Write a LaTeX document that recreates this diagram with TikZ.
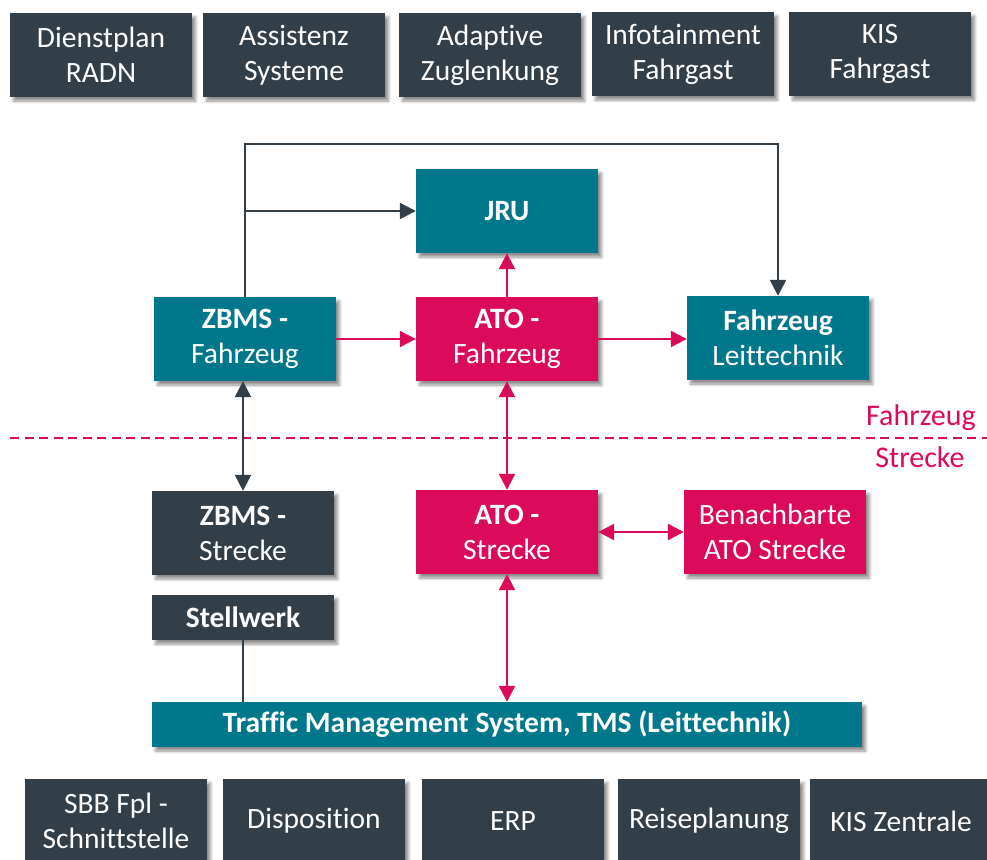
\documentclass[tikz,border=0pt]{standalone}
\usepackage{fontspec}
\setmainfont{Carlito}[Ligatures={NoCommon}]
\usetikzlibrary{arrows.meta,shadows.blur,calc}
\definecolor{slate}{HTML}{333F48}
\definecolor{petrol}{HTML}{00778A}
\definecolor{ruby}{HTML}{DC0A5A}
\tikzset{
  box/.style={rectangle, inner sep=0pt, align=center, text=white,
    minimum width=182pt, minimum height=84pt,
    font=\fontsize{29.5}{35}\selectfont,
    blur shadow={shadow xshift=3.5pt, shadow yshift=-4pt, shadow blur steps=6, shadow opacity=45, shadow blur radius=3pt}},
  darkbox/.style={box, fill=slate},
  tealbox/.style={box, fill=petrol},
  redbox/.style={box, fill=ruby},
  link/.style={line width=2.4pt},
  tip/.style={-{Triangle[length=16pt,width=16pt]}},
  twotips/.style={{Triangle[length=16pt,width=16pt]}-{Triangle[length=16pt,width=16pt]}},
  sidelabel/.style={text=ruby, font=\fontsize{30}{36}\selectfont, inner sep=0pt},
}
\begin{document}
\begin{tikzpicture}[x=1pt,y=-1pt]
\useasboundingbox (0,0) rectangle (987,859);

% top row of applications
\node[darkbox] (dienst) at (101,55) {Dienstplan\\RADN};
\node[darkbox] (assist) at (294,55) {Assistenz\\Systeme};
\node[darkbox] (adapt)  at (490,55) {Adaptive\\Zuglenkung};
\node[darkbox] (info)   at (683,54) {Infotainment\\Fahrgast};
\node[darkbox] (kisfg)  at (880,54) {KIS\\Fahrgast};

% vehicle side
\node[tealbox] (jru)   at (507,211) {\textbf{JRU}};
\node[tealbox] (zbmsf) at (245,339) {\textbf{ZBMS -}\\Fahrzeug};
\node[redbox]  (atof)  at (507,339) {\textbf{ATO -}\\Fahrzeug};
\node[tealbox] (flt)   at (778,338) {\textbf{Fahrzeug}\\Leittechnik};

% boundary vehicle / track
\coordinate (dl) at (10,438);
\coordinate (dr) at (987,438);
\draw[ruby, line width=1.8pt, dash pattern=on 9pt off 5.5pt] (dl) -- (dr);
\node[sidelabel] (lblf) at (921,418) {Fahrzeug};
\node[sidelabel] (lbls) at (920,457) {Strecke};

% track side
\node[darkbox] (zbmss) at (243,533) {\textbf{ZBMS -}\\Strecke};
\node[redbox]  (atos)  at (507,532) {\textbf{ATO -}\\Strecke};
\node[redbox]  (nach)  at (775,532) {Benachbarte\\ATO Strecke};
\node[darkbox, minimum height=45pt] (stw) at (243,617.5) {\textbf{Stellwerk}};
\node[tealbox, minimum width=710pt, minimum height=45pt] (tms) at (507,724.5)
  {\textbf{Traffic Management System, TMS (Leittechnik)}};

% bottom row of central systems
\node[darkbox] (sbb)  at (116,821) {SBB Fpl -\\Schnittstelle};
\node[darkbox] (dispo) at (314,821) {Disposition};
\node[darkbox] (erp)  at (513,821) {ERP};
\node[darkbox] (reise) at (709,821) {Reiseplanung};
\node[darkbox] (kisz) at (901,821) {KIS Zentrale};

% connectors
\coordinate (topl) at ($(zbmsf.north)+(0,-153)$);
\coordinate (jrub) at (zbmsf.north |- jru.west);
\draw[slate, link, tip] (zbmsf.north) -- (topl) -| (flt.north);
\draw[slate, link, tip] (jrub) -- (jru.west);
\draw[ruby, link, tip] (zbmsf.east) -- (atof.west);
\draw[ruby, link, tip] (atof.east) -- (flt.west |- atof.east);
\draw[ruby, link, tip] (atof.north) -- (jru.south);
\draw[slate, link, twotips] (zbmss.north |- zbmsf.south) -- (zbmss.north);
\draw[ruby, link, twotips] (atof.south) -- (atos.north);
\draw[ruby, link, twotips] (atos.east) -- (nach.west);
\draw[ruby, link, twotips] (atos.south) -- (tms.north -| atos.south);
\draw[slate, link] (stw.south) -- (tms.north -| stw.south);
\end{tikzpicture}
\end{document}
